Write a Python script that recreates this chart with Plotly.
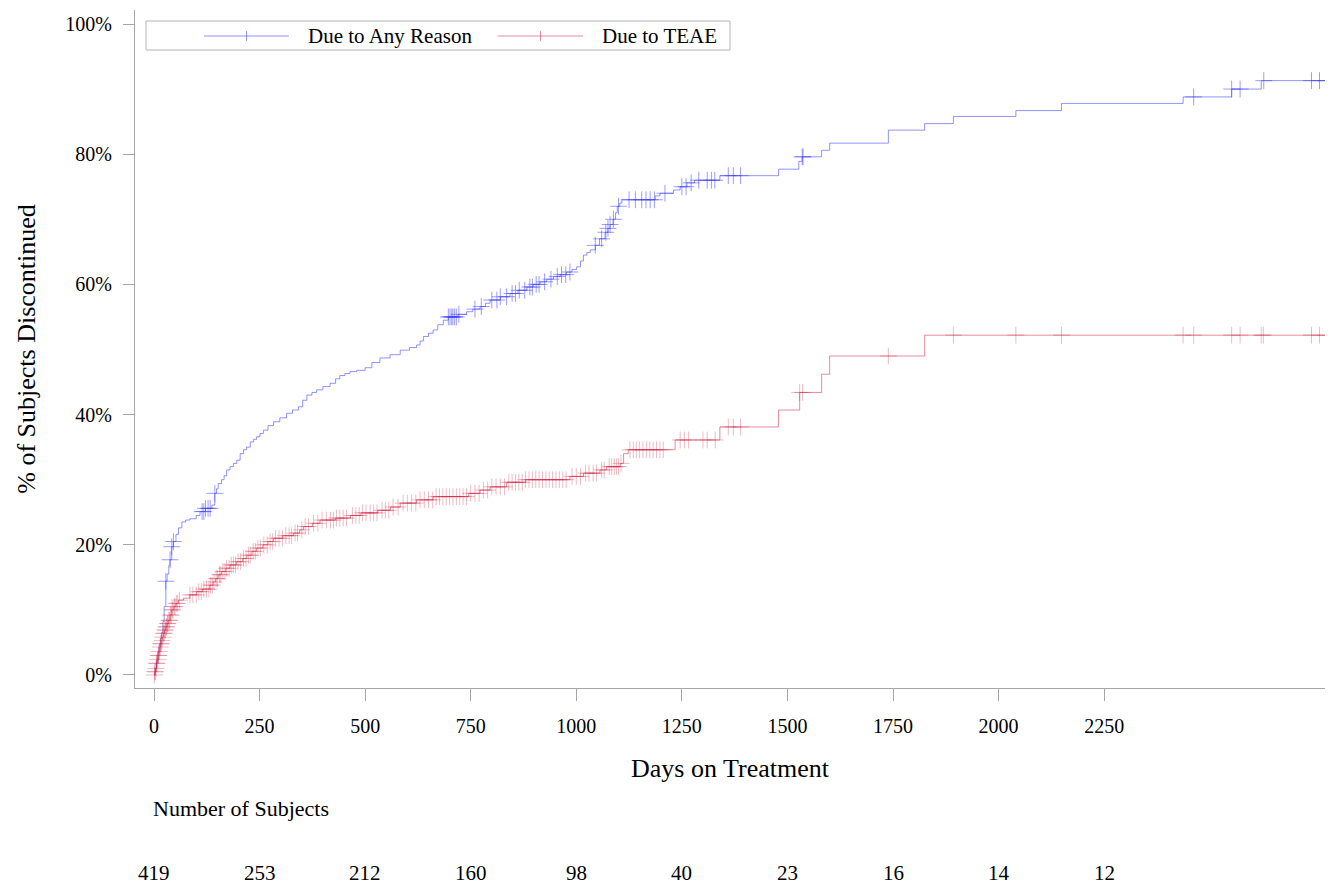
import numpy as np
import plotly.graph_objects as go

# ---------------- data ----------------
any_days = [0, 3, 6, 9, 12, 15, 18, 21, 24, 28, 31, 35, 38, 42, 46, 52, 58, 66, 75, 85,
            100, 109, 122, 137, 144, 148, 152, 160, 166, 172, 180, 188, 196, 204, 212,
            219, 228, 236, 243, 251, 259, 270, 283, 298, 314, 328, 342, 352, 362, 374,
            385, 400, 417, 430, 440, 452, 464, 480, 500, 516, 535, 559, 583, 605, 622,
            630, 638, 650, 661, 672, 685, 697, 720, 740, 755, 772, 785, 796, 820, 843,
            862, 883, 898, 914, 930, 946, 962, 977, 990, 1001, 1010, 1017, 1025, 1033,
            1045, 1055, 1068, 1075, 1080, 1087, 1093, 1097, 1103, 1108, 1187, 1198,
            1230, 1246, 1262, 1280, 1340, 1479, 1527, 1535, 1581, 1600, 1739, 1825,
            1893, 2041, 2149, 2437, 2552, 2622]
any_pct = [0.0, 1.0, 2.2, 3.5, 4.6, 5.6, 6.5, 8.2, 10.5, 14.4, 15.5, 16.8, 17.7, 19.7,
           20.5, 21.6, 22.6, 23.5, 23.8, 24.0, 24.5, 25.1, 25.6, 26.1, 27.9, 28.6, 29.4,
           30.0, 30.6, 31.5, 32.0, 32.5, 33.0, 34.0, 34.6, 35.0, 35.8, 36.2, 36.6, 37.1,
           37.6, 38.3, 38.9, 39.5, 40.2, 40.7, 41.2, 42.2, 43.0, 43.4, 43.8, 44.3, 44.8,
           45.5, 46.0, 46.3, 46.6, 46.8, 47.2, 48.0, 48.7, 49.2, 49.9, 50.3, 50.7, 51.3,
           52.0, 52.5, 53.0, 53.8, 54.5, 55.0, 55.4, 55.8, 56.2, 56.6, 57.1, 57.6, 58.1,
           58.6, 59.1, 59.6, 60.0, 60.4, 60.8, 61.2, 61.5, 61.9, 62.3, 62.7, 63.6, 64.5,
           64.9, 65.3, 66.0, 67.0, 68.0, 68.6, 69.2, 70.0, 71.0, 72.0, 72.5, 73.0, 73.6,
           74.0, 74.5, 75.0, 75.6, 76.0, 76.7, 77.7, 78.9, 79.6, 80.6, 81.7, 83.7, 84.7,
           85.8, 86.7, 87.8, 88.8, 90.0, 91.3]
any_censor = [28, 38, 42, 46, 114, 118, 122, 128, 133, 144, 697, 701, 705, 708, 712,
              716, 722, 760, 775, 800, 812, 820, 835, 848, 856, 865, 878, 890, 896, 905,
              912, 925, 940, 955, 965, 975, 985, 1045, 1060, 1070, 1075, 1080, 1088,
              1100, 1125, 1140, 1155, 1165, 1175, 1185, 1210, 1250, 1260, 1272, 1290,
              1310, 1320, 1328, 1360, 1372, 1389, 1535, 1537, 2462, 2552, 2572, 2628,
              2741, 2760, 2776]

teae_days = [0, 2, 4, 6, 8, 10, 12, 14, 16, 18, 20, 22, 25, 28, 31, 34, 38, 42, 47, 52,
             58, 70, 85, 101, 115, 132, 140, 146, 152, 160, 170, 180, 195, 210, 220, 232,
             243, 258, 270, 283, 305, 330, 345, 354, 375, 393, 430, 465, 490, 530, 560,
             583, 622, 661, 745, 772, 796, 835, 880, 985, 1017, 1056, 1072, 1104, 1112,
             1123, 1234, 1340, 1479, 1529, 1581, 1600, 1825]
teae_pct = [0.0, 0.5, 1.0, 1.8, 2.4, 3.0, 3.6, 4.3, 4.8, 5.3, 5.8, 6.4, 6.9, 7.4, 7.9,
            8.4, 9.2, 10.0, 10.5, 11.0, 11.5, 11.8, 12.3, 12.8, 13.2, 13.8, 14.3, 14.8,
            15.4, 15.9, 16.4, 16.9, 17.4, 17.9, 18.4, 19.0, 19.5, 20.0, 20.5, 21.0, 21.4,
            21.8, 22.3, 22.8, 23.3, 23.8, 24.1, 24.5, 24.9, 25.3, 25.8, 26.4, 26.9, 27.4,
            27.9, 28.4, 28.9, 29.6, 30.0, 30.5, 31.0, 31.5, 32.0, 32.5, 34.0, 34.6, 36.1,
            38.1, 40.7, 43.4, 46.2, 49.0, 52.2]
teae_censor = [1, 2, 3, 5, 6, 7, 9, 10, 11, 13, 15, 16, 17, 19, 21, 23, 24, 26, 27, 29,
               30, 32, 33, 35, 37, 39, 41, 43, 45, 48, 50, 53, 56, 60, 85, 92, 100, 106,
               112, 118, 124, 130, 134, 138, 142, 147, 150, 155, 158, 163, 168, 172, 178,
               183, 188, 193, 199, 205, 212, 218, 224, 229, 235, 240, 246, 252, 260, 268,
               275, 281, 288, 296, 304, 312, 320, 326, 334, 340, 350, 358, 366, 378, 388,
               398, 408, 418, 425, 432, 440, 448, 456, 470, 478, 486, 494, 502, 512, 520,
               528, 540, 548, 556, 566, 578, 590, 600, 610, 620, 630, 640, 650, 660, 668,
               676, 684, 692, 700, 708, 716, 724, 732, 740, 750, 760, 770, 780, 790, 800,
               810, 820, 830, 840, 848, 856, 864, 872, 880, 888, 896, 904, 912, 920, 928,
               936, 944, 952, 960, 968, 976, 990, 1000, 1010, 1022, 1030, 1040, 1048,
               1060, 1066, 1078, 1084, 1090, 1095, 1100, 1106, 1127, 1135, 1142, 1150,
               1158, 1166, 1174, 1182, 1190, 1198, 1206, 1246, 1256, 1266, 1300, 1310,
               1329, 1360, 1372, 1389, 1529, 1536, 1739, 1893, 2041, 2149, 2437, 2462,
               2552, 2572, 2622, 2627, 2741, 2760, 2776]

last_day = 2776

risk_days = [0, 250, 500, 750, 1000, 1250, 1500, 1750, 2000, 2250]
risk_n = [419, 253, 212, 160, 98, 40, 23, 16, 14, 12]

x_ticks = [0, 250, 500, 750, 1000, 1250, 1500, 1750, 2000, 2250]
y_ticks = [0, 20, 40, 60, 80, 100]

names = ["Due to Any Reason", "Due to TEAE"]
line_colors = ["rgba(60,60,255,0.55)", "rgba(205,30,60,0.5)"]
mark_colors = ["rgba(60,60,255,0.5)", "rgba(205,30,60,0.3)"]

FONT = "Liberation Serif"
AXIS_GRAY = "#a6a6a6"


def step_value(days, pct, t):
    idx = np.searchsorted(np.asarray(days), np.asarray(t), side="right") - 1
    return np.asarray(pct)[idx]


fig = go.Figure()
series = [(any_days, any_pct, any_censor), (teae_days, teae_pct, teae_censor)]
for (d, p, c), name, lc, mc in zip(series, names, line_colors, mark_colors):
    fig.add_trace(go.Scatter(
        x=list(d) + [last_day], y=list(p) + [p[-1]],
        mode="lines", line=dict(color=lc, width=1, shape="hv"),
        name=name, showlegend=False, hoverinfo="skip"))
    fig.add_trace(go.Scatter(
        x=c, y=step_value(d, p, c), mode="markers",
        marker=dict(symbol="cross-thin", size=12, color=mc,
                    line=dict(color=mc, width=1)),
        name=name, showlegend=False))

# ---------------- custom legend (SAS style) ----------------
L, T, W, H = 135, 10, 1190, 678


def px(x):
    return (x - L) / W


def py(y):
    return (T + H - y) / H


shapes = [dict(type="rect", xref="paper", yref="paper",
               x0=px(146), x1=px(730), y0=py(50), y1=py(21),
               line=dict(color="#b4b4b4", width=1), fillcolor="white", layer="above")]
annotations = []
legend_items = [(204, 289, 306), (498, 583, 600)]
for (lx0, lx1, tx), name, col in zip(legend_items, names, line_colors):
    shapes.append(dict(type="line", xref="paper", yref="paper",
                       x0=px(lx0), x1=px(lx1), y0=py(36), y1=py(36),
                       line=dict(color=col, width=1), layer="above"))
    mid = (lx0 + lx1) / 2
    shapes.append(dict(type="line", xref="paper", yref="paper",
                       x0=px(mid), x1=px(mid), y0=py(31), y1=py(41),
                       line=dict(color=col, width=1), layer="above"))
    annotations.append(dict(xref="paper", yref="paper", x=px(tx), y=py(36),
                            xanchor="left", yanchor="middle", showarrow=False,
                            text=name, font=dict(family=FONT, size=21, color="black")))

annotations.append(dict(xref="paper", yref="paper", x=px(151), y=py(808),
                        xanchor="left", yanchor="middle", showarrow=False,
                        text="Number of Subjects",
                        font=dict(family=FONT, size=22, color="black")))
for d, n in zip(risk_days, risk_n):
    annotations.append(dict(xref="x", yref="paper", x=d, y=py(886),
                            xanchor="center", yanchor="bottom", showarrow=False,
                            borderpad=0,
                            text=str(n), font=dict(family=FONT, size=21, color="black")))

fig.update_layout(
    width=1335, height=887,
    margin=dict(l=L, r=10, t=T, b=887 - T - H, pad=0),
    paper_bgcolor="white", plot_bgcolor="white",
    font=dict(family=FONT, size=20, color="black"),
    shapes=shapes, annotations=annotations,
    xaxis=dict(range=[-45, 2773], tickmode="array", tickvals=x_ticks,
               ticktext=[str(v) for v in x_ticks],
               showgrid=False, zeroline=False, showline=True, linecolor=AXIS_GRAY,
               linewidth=1, ticks="outside", ticklen=12, tickcolor=AXIS_GRAY,
               tickfont=dict(family=FONT, size=20), ticklabelstandoff=8,
               title=dict(text="Days on Treatment", standoff=22,
                          font=dict(family=FONT, size=26))),
    yaxis=dict(range=[-2.0, 102.15], tickmode="array", tickvals=y_ticks,
               ticktext=[f"{v}%" for v in y_ticks],
               showgrid=False, zeroline=False, showline=True, linecolor=AXIS_GRAY,
               linewidth=1, ticks="outside", ticklen=11, tickcolor=AXIS_GRAY,
               tickfont=dict(family=FONT, size=20), ticklabelstandoff=7,
               title=dict(text="% of Subjects Discontinued", standoff=22,
                          font=dict(family=FONT, size=26))),
)

fig.write_html("out.html")
